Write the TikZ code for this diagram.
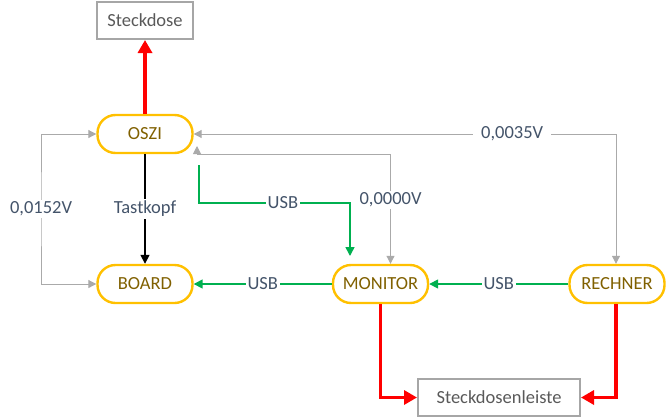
\documentclass[tikz,border=0pt]{standalone}
\usepackage{fontspec}
\setmainfont{Carlito}
\usetikzlibrary{arrows.meta,positioning}
\definecolor{orangeC}{RGB}{255,192,0}
\definecolor{goldtext}{RGB}{128,96,0}
\definecolor{boxgray}{RGB}{166,166,166}
\definecolor{boxtext}{RGB}{89,89,89}
\definecolor{labtext}{RGB}{68,84,106}
\definecolor{lingray}{RGB}{170,170,170}
\definecolor{usbgreen}{RGB}{0,176,80}
\definecolor{pwrred}{RGB}{255,0,0}
\tikzset{
  dev/.style={draw=orangeC, line width=2.4pt, rounded corners=18pt, minimum width=95pt, minimum height=38pt, text=goldtext, font=\fontsize{18.5}{21}\selectfont, inner sep=0pt},
  pbox/.style={draw=boxgray, line width=2pt, minimum height=37pt, text=boxtext, font=\fontsize{18.5}{21}\selectfont, inner sep=0pt},
  lab/.style={fill=white, text=labtext, font=\fontsize{18.5}{21}\selectfont, inner sep=2pt},
  gline/.style={draw=lingray, line width=1pt},
  usb/.style={draw=usbgreen, line width=1.6pt, -{Triangle[length=9pt,width=9pt]}},
  pwr/.style={draw=pwrred, line width=3.5pt, -{Triangle[length=13pt,width=14pt]}},
  probe/.style={draw=black, line width=1.6pt, -{Triangle[length=9pt,width=9pt]}}
}
\begin{document}
\begin{tikzpicture}[x=1pt,y=-1pt]
\useasboundingbox (0,0) rectangle (666,418);
\node[pbox, minimum width=96pt] (dose) at (145,20.5) {Steckdose};
\node[dev] (oszi) at (145,134) {OSZI};
\node[dev] (board) at (145,284) {BOARD};
\node[dev] (monitor) at (380.5,284) {MONITOR};
\node[dev] (rechner) at (617,284) {RECHNER};
\node[pbox, minimum width=162pt] (leiste) at (499,397.5) {Steckdosenleiste};
\coordinate (ousb) at (199,165);
\coordinate (musb) at (350,256);
\coordinate (onull) at (197,146);
\coordinate (oleft) at (41,209);
% power
\draw[pwr] (oszi.north) -- (dose.south);
\draw[pwr] (monitor.south) |- (leiste.west);
\draw[pwr] (rechner.south -| 616,0) |- (leiste.east);
% probe
\draw[probe] (oszi.south) -- node[lab]{Tastkopf} (board.north);
% voltages
\draw[gline, {Triangle[length=8pt,width=8pt]}-{Triangle[length=8pt,width=8pt]}] (oszi.west) -| (oleft) |- (board.west);
\node[lab] at (oleft) {0,0152V};
\draw[gline, {Triangle[length=8pt,width=8pt]}-{Triangle[length=8pt,width=8pt]}] (oszi.east) -| node[lab, pos=0.377, inner xsep=8pt]{0,0035V} (rechner.north -| 616,0);
\draw[gline, {Triangle[length=8pt,width=8pt]}-{Triangle[length=8pt,width=8pt]}] (onull) |- ([xshift=10pt]monitor.north |- 0,154) -- node[lab, pos=0.42]{0,0000V} ([xshift=10pt]monitor.north);
% usb
\draw[usb] (ousb) |- node[lab, pos=0.778]{USB} (musb |- 0,203) -- (musb);
\draw[usb] (monitor.west) -- node[lab]{USB} (board.east);
\draw[usb] (rechner.west) -- node[lab]{USB} (monitor.east);
\end{tikzpicture}
\end{document}
